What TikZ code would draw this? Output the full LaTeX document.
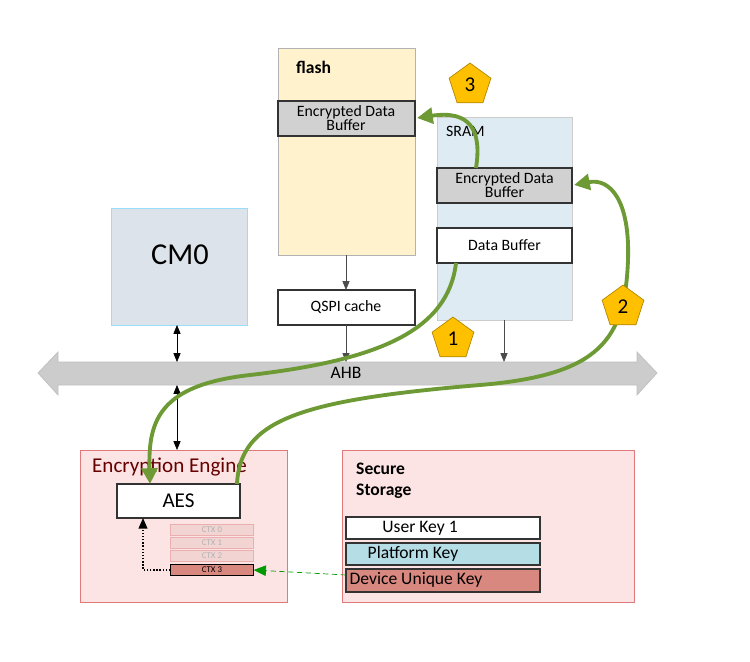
\documentclass[tikz,border=0pt]{standalone}
\usepackage{fontspec}
\setmainfont{Carlito}
\usetikzlibrary{shapes.geometric,arrows.meta}
\definecolor{flashbg}{HTML}{FFF2CC}
\definecolor{srambg}{HTML}{DEEBF3}
\definecolor{cmbg}{HTML}{DDE3EA}
\definecolor{engbg}{HTML}{FCE4E4}
\definecolor{engline}{HTML}{E07A7A}
\definecolor{keyred}{HTML}{D98880}
\definecolor{keyblue}{HTML}{B4DDE6}
\definecolor{flowgreen}{HTML}{6E9A35}
\definecolor{badge}{HTML}{FFC000}
\tikzset{
  blk/.style={draw=black!80, thick},
  buf/.style={blk, fill=black!18},
  bus/.style={-{Triangle[length=5pt,width=4pt]}, black!70},
  flow/.style={flowgreen, line width=2.2pt, -{Triangle[length=9pt,width=9pt]}},
  badgenum/.style={regular polygon, regular polygon sides=5, fill=badge, draw=badge!70!black, minimum size=25pt, inner sep=0pt, font=\large},
  ctx/.style={draw=engline!60, fill=keyred!35, text=black!30, font=\tiny, inner sep=0pt, minimum width=47pt, minimum height=6pt}
}
\begin{document}
\begin{tikzpicture}[x=0.02cm,y=-0.02cm]
\useasboundingbox (0,0) rectangle (750,662);
% cores and memories
\draw[draw=cyan!40, fill=cmbg] (111,208) rectangle (247,325);
\node (cm0) at (180,255) {\LARGE CM0};
\draw[draw=black!30, fill=flashbg] (278,48) rectangle (415,255);
\node[anchor=west] (flash) at (290,67) {\textbf{flash}};
\draw[buf] (278,101) rectangle (415,136);
\node[align=center, font=\small] (fbuf) at (346,118.5) {Encrypted Data\\[-3pt]Buffer};
\draw[blk] (278,290) rectangle (415,325);
\node[font=\small] (qspi) at (346,307.5) {QSPI cache};
\draw[draw=black!20, fill=srambg] (437,117) rectangle (572,320);
\node[anchor=west, font=\small] (sram) at (440,131) {SRAM};
\draw[buf] (437,168) rectangle (572,203);
\node[align=center, font=\small] (sbuf) at (504.5,185.5) {Encrypted Data\\[-3pt]Buffer};
\draw[blk, fill=white] (437,228) rectangle (572,263);
\node[font=\small] (dbuf) at (504.5,245.5) {Data Buffer};
% AHB
\draw[draw=black!25, fill=black!20] (38,373) -- (58,352) -- (58,362) -- (637,362) -- (637,352) -- (657,373)
  -- (637,395) -- (637,385) -- (58,385) -- (58,395) -- cycle;
\node (ahb) at (346,373) {AHB};
\draw[bus] (346,255) -- (346,290);
\draw[bus] (346,325) -- (346,362);
\draw[bus] (504,320) -- (504,362);
\draw[bus, {Triangle[length=5pt,width=4pt]}-{Triangle[length=5pt,width=4pt]}, black] (177,325) -- (177,362);
\draw[bus, {Triangle[length=5pt,width=4pt]}-{Triangle[length=5pt,width=4pt]}, black] (177,385) -- (177,450);
% encryption engine
\draw[draw=engline, fill=engbg] (80,450) rectangle (287,602);
\node[anchor=west, text=red!40!black, font=\large] (eng) at (86,467) {Encryption Engine};
\draw[blk, fill=white] (117,484) rectangle (240,518);
\node[font=\large] (aes) at (178.5,501) {AES};
\foreach \i/\y in {0/530,1/543,2/556} {
  \node[ctx] (ctx\i) at (212,\y) {CTX \i};
}
\node[ctx, draw=black, fill=keyred, text=black] (ctx3) at (212,570) {CTX 3};
\draw[densely dotted, thick, -{Triangle[length=6pt,width=5pt]}] (ctx3.west) -- (143,570) -- (143,518);
% secure storage
\draw[draw=engline, fill=engbg] (342,450) rectangle (634,602);
\node[anchor=north west, align=left, font=\bfseries] (sec) at (350,457) {Secure\\Storage};
\draw[blk, fill=white] (346,517) rectangle (540,539);
\node (uk) at (420,528) {User Key 1};
\draw[blk, fill=keyblue] (346,543) rectangle (540,565);
\node (pk) at (413,554) {Platform Key};
\draw[blk, fill=keyred] (346,569) rectangle (540,592);
\node (duk) at (416,580) {Device Unique Key};
\draw[green!60!black, densely dashed, -{Triangle[length=7pt,width=6pt]}] (346,575) -- (ctx3.east);
% flows
\draw[flow] (456,263) .. controls (448,330) and (380,360) .. (250,375) .. controls (160,385) and (148,420) .. (150,484);
\draw[flow] (237,484) .. controls (240,420) and (300,400) .. (480,385) .. controls (600,375) and (625,340) .. (628,260)
  .. controls (630,200) and (610,178) .. (574,185);
\draw[flow] (476,168) .. controls (482,130) and (470,110) .. (417,118);
\node[badgenum] (s3) at (470,85) {3};
\node[badgenum] (s2) at (623,307) {2};
\node[badgenum] (s1) at (453,339) {1};
\end{tikzpicture}
\end{document}
